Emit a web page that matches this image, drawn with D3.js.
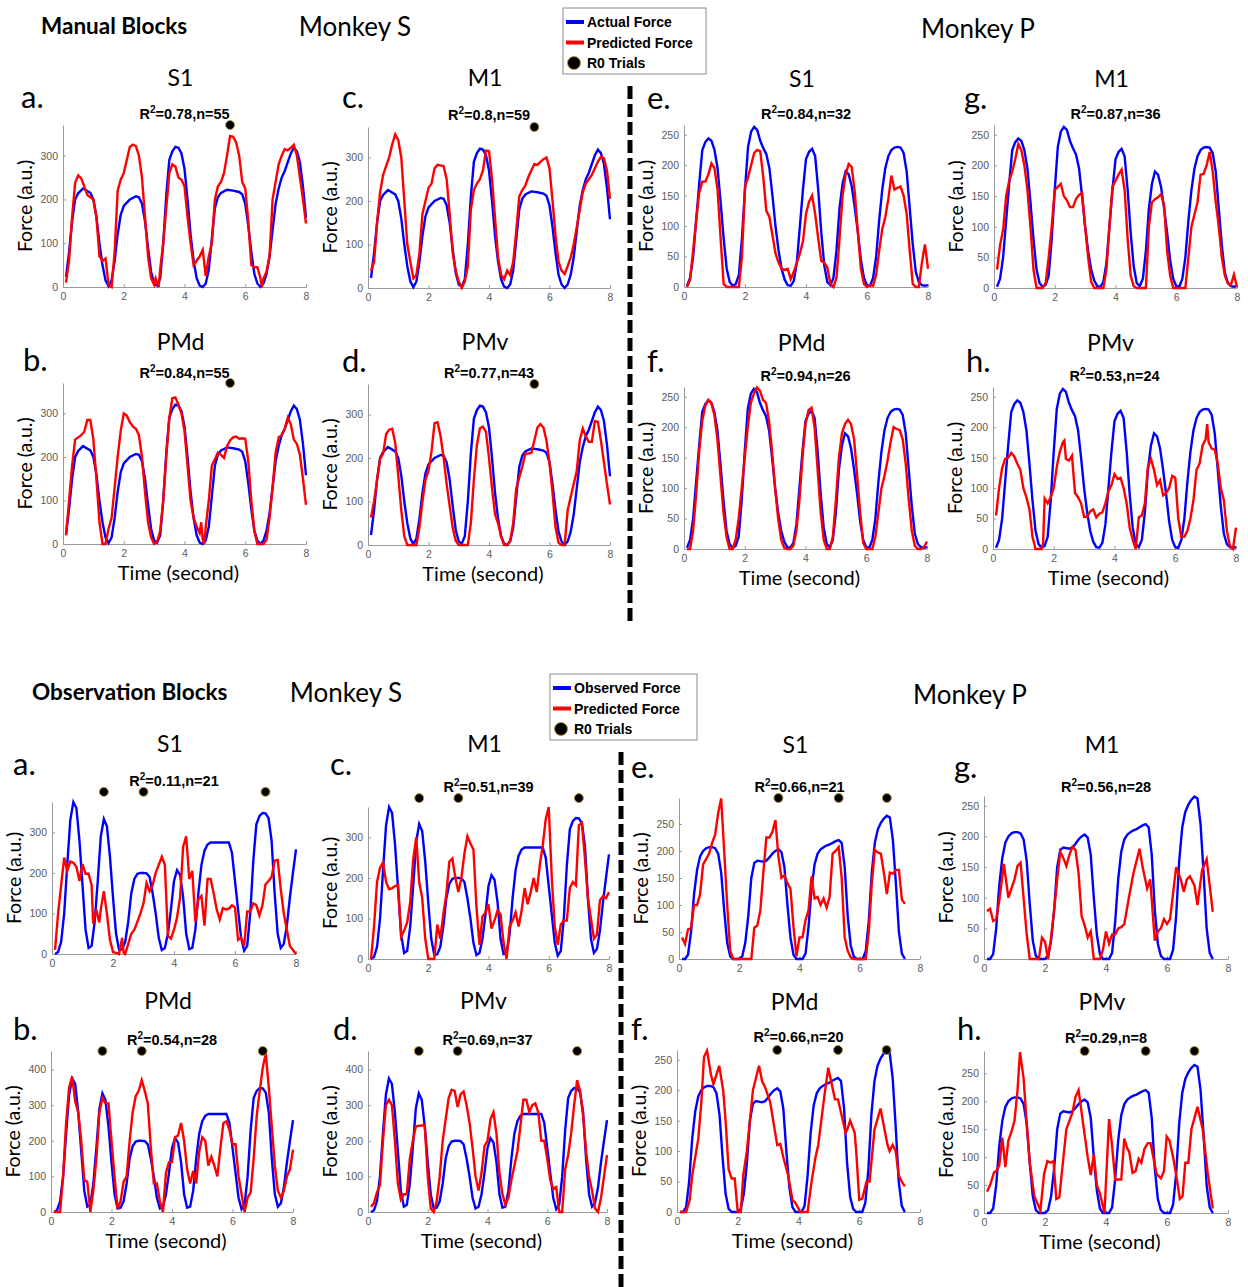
<!DOCTYPE html>
<html>
<head>
<meta charset="utf-8">
<script src="https://cdn.jsdelivr.net/npm/d3@7"></script>
<style>
  body { margin: 0; background: #fff; }
  .head { font-family: Lato, "Open Sans", sans-serif; fill: #000; }
  .bold { font-family: "Liberation Sans", Arial, sans-serif; font-weight: bold; fill: #000; }
  .tick text { font-family: "Liberation Sans", Arial, sans-serif; font-size: 10.5px; fill: #5a5a5a; }
  .tick line, .domain { stroke: #9a9a9a; }
</style>
</head>
<body>
<div id="chart"></div>
<script>
// ---- data ----
const xTicks = [0, 2, 4, 6, 8]
const ticksS = [0, 100, 200, 300]
const ticksS400 = [0, 100, 200, 300, 400]
const ticksP = [0, 50, 100, 150, 200, 250]

const areas = ["S1", "M1", "PMd", "PMv"]
const manualSR2 = [0.78, 0.8, 0.84, 0.77]
const manualSN = [55, 59, 55, 43]
const manualPR2 = [0.84, 0.87, 0.94, 0.53]
const manualPN = [32, 36, 26, 24]
const obsSR2 = [0.11, 0.51, 0.54, 0.69]
const obsSN = [21, 39, 28, 37]
const obsPR2 = [0.66, 0.56, 0.66, 0.29]
const obsPN = [21, 28, 20, 8]

const manualSTrials = [5.5]
const obsSTrials = [1.7, 3.0, 7.0]
const obsPTrials = [3.3, 5.3, 6.9]

// manual blocks, monkey S
const manualSActual = [[0.1,23],[0.2,80],[0.3,150],[0.4,200],[0.5,214],[0.66,225],[0.9,215],[1.0,200],[1.1,160],[1.2,100],[1.3,50],[1.4,15],[1.5,2],[1.6,15],[1.7,60],[1.8,120],[1.9,165],[2.0,185],[2.2,200],[2.4,207],[2.5,205],[2.6,190],[2.7,150],[2.8,90],[2.9,35],[3.0,8],[3.1,3],[3.2,20],[3.3,100],[3.4,210],[3.5,290],[3.6,310],[3.7,320],[3.8,318],[3.9,305],[4.0,270],[4.1,200],[4.2,120],[4.3,60],[4.4,20],[4.5,3],[4.6,0],[4.7,8],[4.8,40],[4.9,110],[5.0,180],[5.1,205],[5.2,215],[5.4,222],[5.6,220],[5.8,217],[5.9,212],[6.0,190],[6.1,140],[6.2,80],[6.3,30],[6.4,8],[6.5,0],[6.6,8],[6.7,30],[6.8,70],[6.9,130],[7.0,190],[7.1,225],[7.2,250],[7.3,265],[7.4,285],[7.5,305],[7.6,318],[7.7,310],[7.8,285],[7.9,230],[8.0,158]]
const manualS_S1 = [[0.1,10],[0.2,60],[0.3,160],[0.4,238],[0.5,255],[0.6,248],[0.7,230],[0.8,210],[0.9,205],[1.0,200],[1.1,160],[1.2,70],[1.3,60],[1.4,65],[1.5,5],[1.6,0],[1.7,80],[1.8,220],[1.9,245],[2.0,260],[2.1,290],[2.2,320],[2.3,325],[2.4,322],[2.5,300],[2.6,250],[2.7,160],[2.8,70],[2.9,20],[3.0,5],[3.05,20],[3.1,10],[3.15,0],[3.2,40],[3.3,100],[3.4,180],[3.5,260],[3.6,280],[3.7,275],[3.8,250],[3.9,245],[4.0,230],[4.1,160],[4.2,100],[4.3,50],[4.4,60],[4.5,70],[4.6,85],[4.7,25],[4.8,70],[4.9,100],[5.0,200],[5.1,230],[5.2,240],[5.3,260],[5.4,300],[5.5,345],[5.6,343],[5.7,330],[5.8,300],[5.9,240],[6.0,225],[6.1,150],[6.2,50],[6.3,45],[6.4,45],[6.5,20],[6.55,0],[6.6,20],[6.7,35],[6.8,70],[6.9,200],[7.0,240],[7.1,280],[7.2,300],[7.3,315],[7.4,312],[7.5,318],[7.6,325],[7.7,300],[7.8,250],[7.9,200],[8.0,145]]
const manualS_M1 = [[0.1,40],[0.2,60],[0.3,150],[0.4,220],[0.5,260],[0.6,280],[0.7,300],[0.8,330],[0.9,353],[1.0,340],[1.1,300],[1.2,200],[1.3,100],[1.4,60],[1.5,22],[1.6,30],[1.7,80],[1.8,170],[1.9,200],[2.0,230],[2.1,240],[2.2,275],[2.3,283],[2.5,280],[2.6,250],[2.7,170],[2.8,80],[2.9,40],[3.0,15],[3.1,0],[3.2,15],[3.3,50],[3.4,180],[3.5,225],[3.6,240],[3.7,250],[3.8,270],[3.9,316],[4.0,315],[4.1,250],[4.2,160],[4.3,70],[4.4,30],[4.5,20],[4.6,40],[4.7,30],[4.8,60],[4.9,130],[5.0,210],[5.1,225],[5.2,235],[5.3,255],[5.4,270],[5.5,285],[5.6,283],[5.7,290],[5.8,296],[5.9,300],[6.0,275],[6.1,200],[6.2,120],[6.3,60],[6.4,40],[6.5,32],[6.6,50],[6.7,70],[6.8,100],[6.9,140],[7.0,180],[7.1,220],[7.2,240],[7.3,250],[7.4,260],[7.5,275],[7.6,290],[7.7,302],[7.8,298],[7.9,270],[8.0,205]]
const manualS_PMd = [[0.1,20],[0.2,100],[0.3,180],[0.4,240],[0.5,245],[0.6,250],[0.7,258],[0.8,285],[0.9,285],[1.0,240],[1.1,150],[1.2,50],[1.3,0],[1.4,0],[1.5,35],[1.6,60],[1.7,130],[1.8,200],[1.9,260],[2.0,300],[2.1,295],[2.2,280],[2.3,270],[2.4,265],[2.5,250],[2.6,200],[2.7,120],[2.8,50],[2.9,15],[3.0,0],[3.1,5],[3.2,30],[3.3,100],[3.4,200],[3.5,290],[3.6,335],[3.7,337],[3.8,320],[3.9,300],[4.0,260],[4.1,180],[4.2,100],[4.3,60],[4.4,40],[4.5,25],[4.55,50],[4.6,10],[4.65,0],[4.7,40],[4.8,100],[4.9,180],[5.0,195],[5.1,210],[5.2,205],[5.3,198],[5.4,225],[5.5,238],[5.6,245],[5.7,247],[5.8,242],[5.9,243],[6.0,242],[6.1,190],[6.2,100],[6.3,30],[6.4,0],[6.6,0],[6.7,10],[6.8,60],[6.9,130],[7.0,210],[7.1,245],[7.2,250],[7.3,265],[7.4,290],[7.5,275],[7.6,240],[7.7,230],[7.8,205],[7.9,150],[8.0,90]]
const manualS_PMv = [[0.1,63],[0.2,100],[0.3,150],[0.4,198],[0.5,210],[0.6,255],[0.7,265],[0.8,267],[0.9,235],[1.0,160],[1.1,80],[1.2,20],[1.3,0],[1.6,0],[1.7,40],[1.8,100],[1.9,150],[2.0,170],[2.1,215],[2.2,280],[2.3,282],[2.4,250],[2.5,200],[2.6,140],[2.7,90],[2.8,40],[2.9,10],[3.0,0],[3.3,0],[3.4,50],[3.5,150],[3.6,230],[3.7,268],[3.8,272],[3.9,260],[4.0,200],[4.1,130],[4.2,70],[4.3,50],[4.4,20],[4.5,0],[4.6,0],[4.7,10],[4.8,50],[4.9,130],[5.0,155],[5.1,180],[5.2,210],[5.3,210],[5.4,212],[5.5,240],[5.6,270],[5.7,278],[5.8,270],[5.9,240],[6.0,190],[6.1,120],[6.2,40],[6.3,5],[6.4,0],[6.5,0],[6.6,80],[6.7,110],[6.8,140],[6.9,170],[7.0,240],[7.1,268],[7.2,250],[7.3,237],[7.4,237],[7.5,285],[7.6,283],[7.7,240],[7.8,190],[7.9,140],[8.0,93]]

// manual blocks, monkey P
const manualPActual = [[0.1,2],[0.2,15],[0.3,50],[0.4,110],[0.5,170],[0.6,225],[0.7,238],[0.8,244],[0.9,240],[1.0,225],[1.1,195],[1.2,140],[1.3,80],[1.4,30],[1.5,8],[1.6,2],[1.7,5],[1.8,20],[1.9,80],[2.0,160],[2.1,230],[2.2,255],[2.3,263],[2.4,258],[2.5,240],[2.6,228],[2.7,218],[2.8,195],[2.9,150],[3.0,100],[3.1,60],[3.2,30],[3.3,12],[3.4,3],[3.5,2],[3.6,10],[3.7,40],[3.8,100],[3.9,160],[4.0,210],[4.1,222],[4.2,227],[4.3,215],[4.4,160],[4.5,90],[4.6,35],[4.7,8],[4.8,3],[4.9,15],[5.0,60],[5.1,130],[5.2,170],[5.3,190],[5.4,185],[5.5,165],[5.6,130],[5.7,90],[5.8,45],[5.9,15],[6.0,3],[6.1,2],[6.2,15],[6.3,50],[6.4,110],[6.5,160],[6.6,195],[6.7,215],[6.8,225],[6.9,229],[7.0,230],[7.1,229],[7.2,220],[7.3,190],[7.4,130],[7.5,70],[7.6,25],[7.7,8],[7.8,3],[7.9,2],[8.0,3]]
const manualP_S1 = [[0.1,0],[0.2,12],[0.3,60],[0.4,110],[0.5,155],[0.6,173],[0.7,173],[0.8,185],[0.9,203],[1.0,195],[1.1,160],[1.2,80],[1.3,5],[1.4,0],[1.8,0],[1.9,50],[2.0,165],[2.1,180],[2.2,200],[2.3,220],[2.4,225],[2.5,223],[2.6,180],[2.7,125],[2.8,115],[2.9,85],[3.0,55],[3.1,40],[3.2,30],[3.3,28],[3.4,30],[3.5,13],[3.6,25],[3.7,40],[3.8,55],[3.9,75],[4.0,120],[4.1,140],[4.2,150],[4.3,120],[4.4,80],[4.5,43],[4.6,40],[4.7,32],[4.8,5],[4.9,0],[5.0,15],[5.1,80],[5.2,150],[5.3,185],[5.4,202],[5.5,197],[5.6,155],[5.7,90],[5.8,30],[5.9,5],[6.0,0],[6.1,3],[6.2,2],[6.3,20],[6.4,60],[6.5,95],[6.6,115],[6.7,145],[6.8,183],[6.9,160],[7.0,163],[7.1,165],[7.2,150],[7.3,120],[7.4,60],[7.5,5],[7.6,0],[7.7,0],[7.8,40],[7.9,70],[8.0,30]]
const manualP_M1 = [[0.1,30],[0.2,70],[0.3,95],[0.4,150],[0.5,175],[0.6,190],[0.7,210],[0.8,235],[0.9,225],[1.0,200],[1.1,160],[1.2,100],[1.3,30],[1.4,0],[1.6,0],[1.7,8],[1.8,50],[1.9,100],[2.0,160],[2.1,165],[2.2,170],[2.3,150],[2.4,143],[2.5,132],[2.6,132],[2.7,145],[2.8,152],[2.9,155],[3.0,100],[3.1,50],[3.2,10],[3.3,0],[3.6,0],[3.7,30],[3.8,100],[3.9,165],[4.0,175],[4.1,185],[4.2,193],[4.3,160],[4.4,80],[4.5,20],[4.6,3],[4.7,0],[5.0,0],[5.1,100],[5.2,140],[5.3,145],[5.4,148],[5.5,153],[5.6,135],[5.7,60],[5.8,20],[5.9,0],[6.3,0],[6.4,50],[6.5,100],[6.6,120],[6.7,140],[6.8,185],[6.9,186],[7.0,200],[7.1,222],[7.2,190],[7.3,140],[7.4,100],[7.5,50],[7.6,20],[7.7,8],[7.8,5],[7.9,22],[8.0,2]]
const manualP_PMd = [[0.1,0],[0.2,0],[0.3,30],[0.4,90],[0.5,160],[0.6,210],[0.7,235],[0.8,245],[0.9,240],[1.0,220],[1.1,180],[1.2,120],[1.3,60],[1.4,20],[1.5,0],[1.6,0],[1.7,15],[1.8,50],[1.9,100],[2.0,150],[2.1,200],[2.2,240],[2.3,255],[2.4,265],[2.5,260],[2.6,245],[2.7,240],[2.8,210],[2.9,160],[3.0,100],[3.1,50],[3.2,15],[3.3,2],[3.4,0],[3.5,0],[3.6,5],[3.7,30],[3.8,80],[3.9,150],[4.0,205],[4.1,228],[4.2,232],[4.3,200],[4.4,130],[4.5,60],[4.6,15],[4.7,0],[4.8,0],[4.9,20],[5.0,80],[5.1,150],[5.2,190],[5.3,205],[5.4,212],[5.5,205],[5.6,180],[5.7,120],[5.8,60],[5.9,10],[6.0,0],[6.2,0],[6.3,20],[6.4,60],[6.5,100],[6.6,120],[6.7,145],[6.8,175],[6.9,200],[7.0,197],[7.1,195],[7.2,180],[7.3,140],[7.4,80],[7.5,30],[7.6,5],[7.7,0],[7.8,0],[7.9,3],[8.0,12]]
const manualP_PMv = [[0.1,55],[0.2,100],[0.3,133],[0.4,148],[0.5,150],[0.6,158],[0.7,152],[0.8,140],[0.9,130],[1.0,100],[1.1,85],[1.2,65],[1.3,20],[1.4,0],[1.6,0],[1.65,10],[1.7,83],[1.8,75],[1.9,85],[2.0,100],[2.1,135],[2.2,160],[2.3,175],[2.35,178],[2.4,148],[2.5,145],[2.6,153],[2.7,92],[2.8,85],[2.9,75],[3.0,53],[3.1,53],[3.2,62],[3.3,65],[3.4,52],[3.5,58],[3.6,60],[3.7,75],[3.8,95],[3.9,105],[4.0,123],[4.1,115],[4.2,117],[4.3,100],[4.4,75],[4.5,35],[4.6,15],[4.7,0],[4.8,52],[4.9,55],[5.0,75],[5.1,135],[5.2,148],[5.3,130],[5.4,105],[5.5,113],[5.6,88],[5.7,92],[5.8,100],[5.9,120],[6.0,117],[6.1,50],[6.2,20],[6.3,20],[6.4,30],[6.5,50],[6.6,80],[6.7,130],[6.8,140],[6.9,170],[7.0,180],[7.05,205],[7.1,175],[7.2,165],[7.3,163],[7.4,140],[7.5,100],[7.6,80],[7.7,30],[7.8,5],[7.9,0],[8.0,35]]

// observation blocks, monkey S
const obsSObserved = [[0.1,0],[0.2,5],[0.3,30],[0.4,100],[0.5,220],[0.6,330],[0.7,375],[0.8,360],[0.9,280],[1.0,170],[1.1,60],[1.2,15],[1.3,20],[1.4,80],[1.5,180],[1.6,290],[1.7,333],[1.8,315],[1.9,240],[2.0,140],[2.1,50],[2.2,10],[2.3,12],[2.4,30],[2.5,80],[2.6,150],[2.7,185],[2.8,198],[2.9,200],[3.0,200],[3.1,199],[3.2,190],[3.3,150],[3.4,100],[3.5,40],[3.6,10],[3.7,15],[3.8,50],[3.9,110],[4.0,180],[4.1,207],[4.2,195],[4.3,140],[4.4,50],[4.5,12],[4.6,15],[4.7,60],[4.8,150],[4.9,220],[5.0,255],[5.1,270],[5.2,275],[5.8,275],[5.9,250],[6.0,180],[6.1,110],[6.2,40],[6.3,8],[6.4,20],[6.5,100],[6.6,230],[6.7,320],[6.8,340],[6.9,348],[7.0,347],[7.1,335],[7.2,280],[7.3,150],[7.4,50],[7.5,15],[7.6,25],[7.7,70],[7.8,140],[7.9,200],[8.0,258]]
const obsS_S1 = [[0.1,10],[0.2,100],[0.3,170],[0.4,238],[0.5,205],[0.6,228],[0.7,225],[0.8,215],[0.9,180],[1.0,222],[1.1,198],[1.2,198],[1.3,170],[1.35,75],[1.45,110],[1.55,78],[1.6,110],[1.7,155],[1.8,100],[1.9,35],[2.0,5],[2.1,3],[2.2,0],[2.3,40],[2.35,3],[2.4,0],[2.5,25],[2.6,50],[2.7,60],[2.8,80],[2.9,100],[3.0,125],[3.1,175],[3.2,155],[3.3,170],[3.4,200],[3.5,220],[3.6,240],[3.7,220],[3.8,45],[3.9,38],[4.0,60],[4.1,90],[4.2,140],[4.3,265],[4.4,290],[4.5,185],[4.6,205],[4.7,80],[4.8,135],[4.9,143],[5.0,70],[5.1,185],[5.2,185],[5.3,150],[5.4,110],[5.5,85],[5.6,113],[5.7,110],[5.8,112],[5.9,120],[6.0,115],[6.1,35],[6.2,40],[6.3,20],[6.4,105],[6.5,105],[6.6,125],[6.7,120],[6.8,95],[6.9,120],[7.0,172],[7.1,180],[7.2,190],[7.3,230],[7.4,232],[7.5,160],[7.6,100],[7.7,60],[7.8,20],[8.0,0]]
const obsS_M1 = [[0.1,0],[0.2,80],[0.3,190],[0.4,225],[0.5,238],[0.6,190],[0.7,172],[0.8,175],[0.9,180],[1.0,183],[1.1,55],[1.2,70],[1.3,90],[1.4,140],[1.5,245],[1.6,300],[1.7,190],[1.8,150],[1.9,50],[2.0,0],[2.2,0],[2.3,85],[2.4,50],[2.5,110],[2.6,160],[2.7,240],[2.8,248],[2.9,200],[3.0,165],[3.1,200],[3.2,260],[3.3,303],[3.4,285],[3.5,270],[3.6,130],[3.7,35],[3.8,105],[3.9,115],[4.0,135],[4.1,75],[4.2,95],[4.3,120],[4.4,110],[4.5,40],[4.6,0],[4.7,80],[4.8,95],[4.9,115],[5.0,80],[5.1,120],[5.2,175],[5.3,135],[5.4,165],[5.5,200],[5.6,165],[5.7,230],[5.8,280],[5.9,345],[6.0,375],[6.1,200],[6.2,80],[6.3,35],[6.4,85],[6.5,95],[6.6,95],[6.7,175],[6.8,190],[6.9,182],[7.0,330],[7.1,335],[7.2,250],[7.3,150],[7.4,100],[7.5,50],[7.6,60],[7.7,145],[7.8,155],[7.9,150],[8.0,165]]
const obsS_PMd = [[0.1,0],[0.3,0],[0.4,100],[0.5,250],[0.6,350],[0.7,380],[0.8,310],[0.9,280],[1.0,200],[1.1,90],[1.2,85],[1.3,0],[1.4,60],[1.5,150],[1.6,280],[1.7,320],[1.8,305],[1.9,305],[2.0,200],[2.1,100],[2.2,10],[2.3,30],[2.4,85],[2.5,100],[2.6,200],[2.7,280],[2.8,325],[2.9,340],[3.0,370],[3.1,340],[3.2,305],[3.3,180],[3.4,80],[3.5,80],[3.6,30],[3.7,0],[3.8,110],[3.9,140],[4.0,140],[4.1,210],[4.2,215],[4.3,250],[4.4,200],[4.5,120],[4.6,80],[4.7,115],[4.8,80],[4.9,170],[5.0,210],[5.1,200],[5.2,130],[5.3,155],[5.4,130],[5.5,100],[5.6,180],[5.7,250],[5.8,255],[5.9,230],[6.0,190],[6.1,190],[6.2,100],[6.3,50],[6.4,0],[6.5,40],[6.6,55],[6.7,150],[6.8,270],[6.9,340],[7.0,405],[7.1,445],[7.2,350],[7.3,240],[7.4,130],[7.5,60],[7.6,40],[7.7,60],[7.8,100],[7.9,120],[8.0,175]]
const obsS_PMv = [[0.1,15],[0.2,25],[0.3,55],[0.4,75],[0.5,200],[0.6,300],[0.7,315],[0.8,300],[0.9,200],[1.0,80],[1.1,35],[1.2,50],[1.3,50],[1.4,150],[1.5,200],[1.6,240],[1.7,242],[1.8,243],[1.9,245],[2.0,100],[2.1,10],[2.2,0],[2.3,30],[2.4,100],[2.5,200],[2.6,260],[2.7,320],[2.8,343],[2.9,340],[3.0,295],[3.1,330],[3.2,338],[3.3,300],[3.4,250],[3.5,180],[3.6,100],[3.7,60],[3.8,110],[3.9,185],[4.0,200],[4.1,260],[4.2,280],[4.3,220],[4.4,110],[4.5,50],[4.6,20],[4.7,40],[4.8,90],[4.9,130],[5.0,170],[5.1,240],[5.2,315],[5.3,315],[5.4,280],[5.5,300],[5.6,305],[5.7,280],[5.8,200],[5.9,200],[6.0,150],[6.1,90],[6.2,65],[6.3,70],[6.4,0],[6.5,0],[6.6,120],[6.7,160],[6.8,220],[6.9,300],[7.0,370],[7.1,340],[7.2,270],[7.3,170],[7.4,100],[7.5,60],[7.6,10],[7.7,0],[7.8,40],[7.9,100],[8.0,160]]

// observation blocks, monkey P
const obsPObserved = [[0.1,0],[0.2,0],[0.3,8],[0.4,50],[0.5,120],[0.6,165],[0.7,190],[0.8,200],[0.9,205],[1.0,207],[1.1,207],[1.2,205],[1.3,195],[1.4,160],[1.5,90],[1.6,30],[1.7,5],[1.8,0],[2.0,0],[2.1,5],[2.2,30],[2.3,80],[2.4,150],[2.5,178],[2.6,182],[2.8,180],[2.9,182],[3.0,188],[3.1,195],[3.2,200],[3.3,203],[3.4,198],[3.5,170],[3.6,100],[3.7,40],[3.8,8],[3.9,0],[4.1,0],[4.2,10],[4.3,60],[4.4,130],[4.5,175],[4.6,195],[4.7,203],[4.8,207],[4.9,210],[5.0,212],[5.1,215],[5.2,218],[5.3,220],[5.4,215],[5.5,170],[5.6,80],[5.7,25],[5.8,5],[5.9,0],[6.1,0],[6.2,15],[6.3,70],[6.4,160],[6.5,215],[6.6,240],[6.7,252],[6.8,260],[6.9,265],[7.0,262],[7.1,220],[7.2,140],[7.3,50],[7.4,10],[7.5,0]]
const obsP_S1 = [[0.1,40],[0.2,28],[0.3,55],[0.4,57],[0.5,100],[0.6,100],[0.7,120],[0.8,175],[0.9,185],[1.0,195],[1.1,215],[1.2,230],[1.3,270],[1.4,297],[1.5,200],[1.6,100],[1.7,15],[1.8,0],[2.4,0],[2.5,58],[2.6,62],[2.7,90],[2.8,160],[2.9,225],[3.0,225],[3.1,235],[3.2,257],[3.3,190],[3.4,150],[3.5,155],[3.6,140],[3.7,130],[3.8,60],[3.9,5],[4.0,40],[4.1,40],[4.2,72],[4.3,90],[4.4,153],[4.5,112],[4.6,115],[4.7,100],[4.8,112],[4.9,95],[5.0,115],[5.1,195],[5.2,200],[5.3,207],[5.4,150],[5.5,40],[5.6,15],[5.7,3],[5.8,0],[6.2,0],[6.3,50],[6.4,140],[6.5,202],[6.6,197],[6.7,195],[6.8,160],[6.9,120],[7.0,160],[7.1,158],[7.2,165],[7.3,165],[7.4,110],[7.5,102]]
const obsP_M1 = [[0.1,78],[0.2,82],[0.3,62],[0.4,65],[0.5,95],[0.65,155],[0.8,100],[1.0,130],[1.1,152],[1.2,157],[1.4,40],[1.5,0],[1.8,0],[1.9,35],[2.0,28],[2.1,0],[2.2,35],[2.3,80],[2.4,130],[2.5,175],[2.6,165],[2.7,152],[2.8,170],[2.9,183],[3.0,178],[3.1,140],[3.2,70],[3.3,55],[3.4,35],[3.5,45],[3.6,0],[3.8,0],[3.9,15],[4.0,45],[4.1,25],[4.2,40],[4.3,40],[4.4,50],[4.5,52],[4.6,57],[4.75,100],[4.9,140],[5.1,180],[5.2,150],[5.35,115],[5.45,130],[5.6,30],[5.7,45],[5.8,50],[5.9,65],[6.0,57],[6.1,65],[6.3,150],[6.45,130],[6.55,110],[6.65,130],[6.75,135],[6.9,120],[7.0,88],[7.15,145],[7.3,163],[7.5,77]]
const obsP_PMd = [[0.1,0],[0.3,0],[0.42,20],[0.5,60],[0.7,120],[0.8,180],[0.89,255],[0.99,265],[1.12,225],[1.2,210],[1.39,240],[1.52,200],[1.6,150],[1.7,70],[1.8,55],[1.9,55],[2.0,0],[2.1,0],[2.18,60],[2.3,100],[2.5,200],[2.7,240],[2.8,215],[2.9,205],[3.07,180],[3.2,140],[3.3,110],[3.4,112],[3.5,90],[3.66,60],[3.8,20],[3.9,15],[4.06,0],[4.3,0],[4.43,50],[4.56,90],[4.65,110],[4.85,190],[4.98,237],[5.2,185],[5.3,185],[5.55,130],[5.6,135],[5.7,150],[5.85,130],[5.9,100],[6.0,20],[6.1,22],[6.24,50],[6.34,50],[6.5,135],[6.7,170],[6.93,110],[7.0,100],[7.1,110],[7.2,100],[7.3,60],[7.4,50],[7.5,42]]
const obsP_PMv = [[0.1,38],[0.2,50],[0.33,73],[0.4,75],[0.5,85],[0.6,135],[0.7,82],[0.8,130],[0.9,145],[1.0,165],[1.1,220],[1.18,288],[1.3,240],[1.4,160],[1.5,90],[1.65,30],[1.85,5],[1.97,70],[2.08,93],[2.17,90],[2.28,93],[2.37,25],[2.47,28],[2.7,150],[2.8,165],[2.9,180],[3.0,208],[3.1,220],[3.2,180],[3.4,100],[3.5,68],[3.6,105],[3.7,50],[3.8,35],[3.95,0],[4.1,168],[4.2,120],[4.3,60],[4.5,60],[4.6,133],[4.7,115],[4.76,110],[4.87,72],[4.97,75],[5.07,97],[5.16,90],[5.26,115],[5.37,125],[5.46,125],[5.66,70],[5.8,62],[5.9,75],[5.99,137],[6.08,130],[6.2,100],[6.34,55],[6.42,25],[6.51,30],[6.6,90],[6.7,90],[6.8,150],[7.0,190],[7.17,150],[7.34,70],[7.5,8]]

// ---- layout (pixel geometry of each panel) ----
const panels = [
  // manual, monkey S
  {area: 0, letter: "a.", r2: manualSR2, n: manualSN, actual: manualSActual, pred: manualS_S1, trials: manualSTrials, yTicks: ticksS, yMax: 370, dotLevel: 370, x0: 63, x1: 306, y0: 287, yTop: 125, titleY: 86, letterX: 21, letterY: 108, r2Y: 119},
  {area: 1, letter: "c.", r2: manualSR2, n: manualSN, actual: manualSActual, pred: manualS_M1, trials: manualSTrials, yTicks: ticksS, yMax: 370, dotLevel: 370, x0: 368, x1: 610, y0: 288, yTop: 127, titleY: 86, letterX: 342, letterY: 108, r2Y: 120},
  {area: 2, letter: "b.", r2: manualSR2, n: manualSN, actual: manualSActual, pred: manualS_PMd, trials: manualSTrials, yTicks: ticksS, yMax: 370, dotLevel: 370, x0: 63, x1: 306, y0: 544, yTop: 383, titleY: 350, letterX: 23, letterY: 371, r2Y: 378, time: true},
  {area: 3, letter: "d.", r2: manualSR2, n: manualSN, actual: manualSActual, pred: manualS_PMv, trials: manualSTrials, yTicks: ticksS, yMax: 370, dotLevel: 370, x0: 368, x1: 610, y0: 545, yTop: 384, titleY: 350, letterX: 342, letterY: 372, r2Y: 378, time: true},
  // manual, monkey P
  {area: 0, letter: "e.", r2: manualPR2, n: manualPN, actual: manualPActual, pred: manualP_S1, trials: [], yTicks: ticksP, yMax: 266, x0: 684, x1: 928, y0: 287, yTop: 125, titleY: 87, letterX: 647, letterY: 109, r2Y: 119},
  {area: 1, letter: "g.", r2: manualPR2, n: manualPN, actual: manualPActual, pred: manualP_M1, trials: [], yTicks: ticksP, yMax: 266, x0: 994, x1: 1237, y0: 288, yTop: 125, titleY: 87, letterX: 964, letterY: 109, r2Y: 119},
  {area: 2, letter: "f.", r2: manualPR2, n: manualPN, actual: manualPActual, pred: manualP_PMd, trials: [], yTicks: ticksP, yMax: 266, x0: 684, x1: 927, y0: 549, yTop: 387, titleY: 351, letterX: 647, letterY: 372, r2Y: 381, time: true},
  {area: 3, letter: "h.", r2: manualPR2, n: manualPN, actual: manualPActual, pred: manualP_PMv, trials: [], yTicks: ticksP, yMax: 266, x0: 993, x1: 1236, y0: 549, yTop: 387, titleY: 351, letterX: 966, letterY: 372, r2Y: 381, time: true},
  // observation, monkey S
  {area: 0, letter: "a.", r2: obsSR2, n: obsSN, actual: obsSObserved, pred: obsS_S1, trials: obsSTrials, yTicks: ticksS, yMax: 375, dotLevel: 400, x0: 52, x1: 296, y0: 954, yTop: 802, titleY: 752, letterX: 13, letterY: 775, r2Y: 786},
  {area: 1, letter: "c.", r2: obsSR2, n: obsSN, actual: obsSObserved, pred: obsS_M1, trials: obsSTrials, yTicks: ticksS, yMax: 375, dotLevel: 397, x0: 368, x1: 609, y0: 959, yTop: 807, titleY: 752, letterX: 330, letterY: 775, r2Y: 792},
  {area: 2, letter: "b.", r2: obsSR2, n: obsSN, actual: obsSObserved, pred: obsS_PMd, trials: obsSTrials, yTicks: ticksS400, yMax: 452, dotLevel: 452, x0: 51, x1: 293, y0: 1212, yTop: 1051, titleY: 1009, letterX: 13, letterY: 1040, r2Y: 1045, time: true},
  {area: 3, letter: "d.", r2: obsSR2, n: obsSN, actual: obsSObserved, pred: obsS_PMv, trials: obsSTrials, yTicks: ticksS400, yMax: 452, dotLevel: 452, x0: 368, x1: 607, y0: 1212, yTop: 1051, titleY: 1009, letterX: 333, letterY: 1040, r2Y: 1045, time: true},
  // observation, monkey P
  {area: 0, letter: "e.", r2: obsPR2, n: obsPN, actual: obsPObserved, pred: obsP_S1, trials: obsPTrials, yTicks: ticksP, yMax: 298, dotLevel: 298, x0: 679, x1: 920, y0: 959, yTop: 798, titleY: 753, letterX: 631, letterY: 778, r2Y: 792},
  {area: 1, letter: "g.", r2: obsPR2, n: obsPN, actual: obsPObserved, pred: obsP_M1, trials: [], yTicks: ticksP, yMax: 266, x0: 984, x1: 1228, y0: 959, yTop: 796, titleY: 753, letterX: 954, letterY: 778, r2Y: 792},
  {area: 2, letter: "f.", r2: obsPR2, n: obsPN, actual: obsPObserved, pred: obsP_PMd, trials: obsPTrials, yTicks: ticksP, yMax: 266, dotLevel: 266, x0: 677, x1: 920, y0: 1212, yTop: 1050, titleY: 1010, letterX: 631, letterY: 1040, r2Y: 1042, time: true},
  {area: 3, letter: "h.", r2: obsPR2, n: obsPN, actual: obsPObserved, pred: obsP_PMv, trials: obsPTrials, yTicks: ticksP, yMax: 290, dotLevel: 290, x0: 984, x1: 1228, y0: 1213, yTop: 1051, titleY: 1010, letterX: 957, letterY: 1040, r2Y: 1043, time: true},
]

const width = 1248, height = 1287

const svg = d3.select("#chart")
    .append("svg")
    .attr("width", width)
    .attr("height", height)

const drawDot = (g, cx, cy, r) => g.append("circle")
    .attr("cx", cx).attr("cy", cy).attr("r", r)
    .attr("fill", "#000").attr("stroke", "#b59a45").attr("stroke-width", 1)

const drawPanel = p => {
    const g = svg.append("g")
    const x = d3.scaleLinear().domain([0, 8]).range([p.x0, p.x1])
    const y = d3.scaleLinear().domain([0, p.yMax]).range([p.y0, p.yTop])

    g.append("g")
        .attr("transform", `translate(0,${p.y0})`)
        .call(d3.axisBottom(x).tickValues(xTicks).tickSizeInner(-3).tickSizeOuter(0).tickPadding(6))
    g.append("g")
        .attr("transform", `translate(${p.x0},0)`)
        .call(d3.axisLeft(y).tickValues(p.yTicks).tickSizeInner(-3).tickSizeOuter(0).tickPadding(5))

    const line = d3.line().x(d => x(d[0])).y(d => y(d[1]))
    g.append("path").datum(p.actual)
        .attr("d", line).attr("fill", "none").attr("stroke", "#0000ff").attr("stroke-width", 2.4)
    g.append("path").datum(p.pred)
        .attr("d", line).attr("fill", "none").attr("stroke", "#ff0000").attr("stroke-width", 2.4)

    p.trials.forEach(t => drawDot(g, x(t), y(p.dotLevel), 4.5))

    const cx = (p.x0 + p.x1) / 2
    g.append("text").attr("class", "head")
        .attr("x", cx - 4).attr("y", p.titleY)
        .attr("text-anchor", "middle").attr("font-size", 23)
        .text(areas[p.area])
    g.append("text").attr("class", "head")
        .attr("x", p.letterX).attr("y", p.letterY)
        .attr("font-size", 31)
        .text(p.letter)

    const r2 = g.append("text").attr("class", "bold")
        .attr("x", cx).attr("y", p.r2Y)
        .attr("text-anchor", "middle").attr("font-size", 14.5)
    r2.append("tspan").text("R")
    r2.append("tspan").attr("font-size", 10).attr("dy", -6).text("2")
    r2.append("tspan").attr("dy", 6).text(`=${p.r2[p.area]},n=${p.n[p.area]}`)

    g.append("text").attr("class", "head")
        .attr("transform", `translate(${p.x0 - 31},${(p.y0 + p.yTop) / 2}) rotate(-90)`)
        .attr("text-anchor", "middle").attr("font-size", 19.5)
        .text("Force (a.u.)")

    if (p.time) {
        g.append("text").attr("class", "head")
            .attr("x", cx - 6).attr("y", p.y0 + 36)
            .attr("text-anchor", "middle").attr("font-size", 20)
            .text("Time (second)")
    }
}

panels.forEach(drawPanel)

// headings
const headings = [
    {text: "Manual Blocks", x: 41, y: 34, bold: true, size: 22.5, anchor: "start"},
    {text: "Monkey S", x: 355, y: 36, size: 26, anchor: "middle"},
    {text: "Monkey P", x: 978, y: 38, size: 26, anchor: "middle"},
    {text: "Observation Blocks", x: 32, y: 700, bold: true, size: 22.5, anchor: "start"},
    {text: "Monkey S", x: 346, y: 702, size: 26, anchor: "middle"},
    {text: "Monkey P", x: 970, y: 704, size: 26, anchor: "middle"},
]
headings.forEach(h => svg.append("text").attr("class", "head")
    .attr("x", h.x).attr("y", h.y)
    .attr("text-anchor", h.anchor)
    .attr("font-size", h.size)
    .attr("font-weight", h.bold ? "bold" : "normal")
    .text(h.text))

// legends
const legends = [
    {x: 563, y: 8, w: 143, h: 66, labels: ["Actual Force", "Predicted Force", "R0 Trials"]},
    {x: 550, y: 674, w: 147, h: 66, labels: ["Observed Force", "Predicted Force", "R0 Trials"]},
]
legends.forEach(l => {
    const g = svg.append("g").attr("transform", `translate(${l.x},${l.y})`)
    g.append("rect").attr("width", l.w).attr("height", l.h)
        .attr("fill", "#fff").attr("stroke", "#8c8c8c").attr("stroke-width", 1)
    const colors = ["#0000ff", "#ff0000"]
    l.labels.forEach((lab, i) => {
        const yy = 14 + i * 20.5
        if (i < 2) {
            g.append("line").attr("x1", 3).attr("x2", 21).attr("y1", yy).attr("y2", yy)
                .attr("stroke", colors[i]).attr("stroke-width", 4)
        } else {
            drawDot(g, 11, yy, 6.5)
        }
        g.append("text").attr("class", "bold")
            .attr("x", 24).attr("y", yy + 5)
            .attr("font-size", 14)
            .text(lab)
    })
})

// dashed separators
const separators = [
    {x: 630, y1: 86, y2: 625},
    {x: 621, y1: 752, y2: 1287},
]
separators.forEach(s => svg.append("line")
    .attr("x1", s.x).attr("x2", s.x).attr("y1", s.y1).attr("y2", s.y2)
    .attr("stroke", "#000").attr("stroke-width", 5)
    .attr("stroke-dasharray", "13,5"))
</script>
</body>
</html>
